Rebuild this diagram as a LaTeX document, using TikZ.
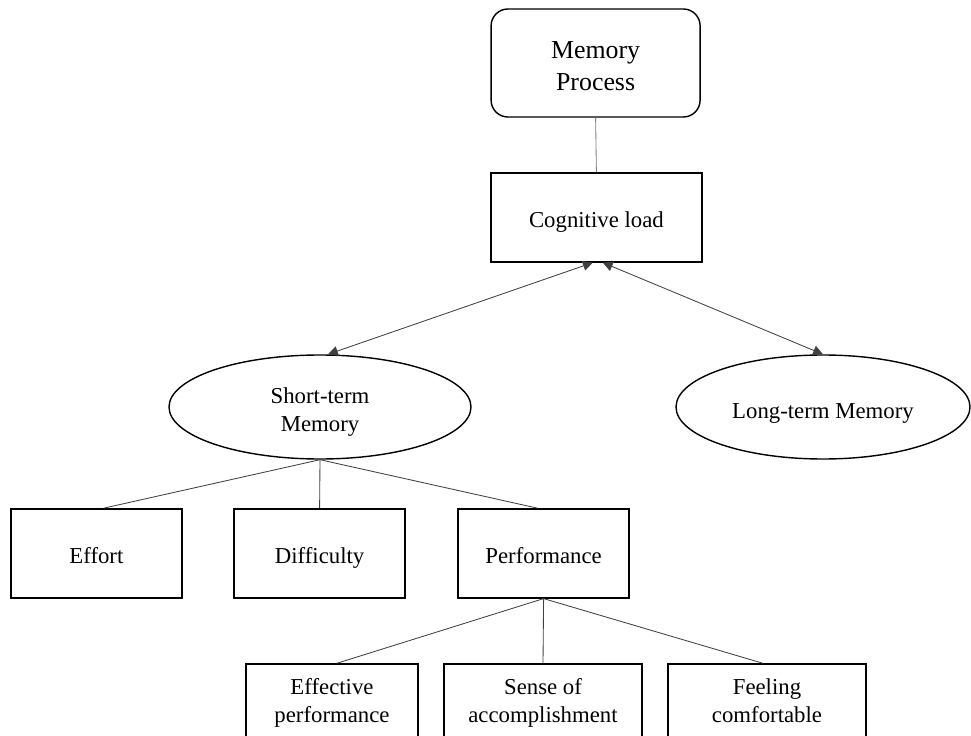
\documentclass[tikz,border=0pt]{standalone}
\usepackage{fontspec}
\setmainfont{Liberation Serif}
\usetikzlibrary{shapes.geometric, arrows.meta}

\begin{document}
\begin{tikzpicture}[
    lift/.style={execute at begin node={\rule{0pt}{#1}}},
    box/.style={draw, line width=1pt, rectangle, inner sep=0pt, align=center,
        minimum width=4.275cm, minimum height=2.225cm,
        lift=20pt, execute at end node=\strut,
        font=\fontsize{16.2}{19.5}\selectfont},
    lowbox/.style={box, minimum width=4.95cm, minimum height=1.85cm, lift=36.3pt},
    topbox/.style={box, rounded corners=0.42cm, minimum width=5.225cm, minimum height=2.7cm,
        lift=46.2pt, font=\fontsize{18.4}{22.7}\selectfont},
    oval/.style={draw, line width=1pt, ellipse, inner sep=0pt, align=center,
        minimum height=2.6cm, lift=22.4pt,
        execute at end node=\strut, font=\fontsize{16.2}{19.9}\selectfont},
    link/.style={draw=black!75, line width=0.6pt},
    twoway/.style={link, {Triangle[length=7pt,width=7pt]}-{Triangle[length=7pt,width=7pt]}}
]
    \useasboundingbox (0,0) rectangle (24.275,18.375);
    \clip (0,0) rectangle (24.275,18.375);

    % Top of the tree
    \node[topbox] (mem) at (14.89,16.80) {Memory\\Process};
    \node[box, minimum width=5.275cm] (cog) at (14.91,12.94) {Cognitive load};

    % The two kinds of memory
    \node[oval, minimum width=7.55cm, lift=41pt] (stm) at (8.0,8.2) {Short-term\\Memory};
    \node[oval, minimum width=7.35cm] (ltm) at (20.575,8.2) {Long-term Memory};

    % Factors of short-term memory
    \node[box] (effort) at (2.41,4.54) {Effort};
    \node[box] (diff) at (7.99,4.54) {Difficulty};
    \node[box] (perf) at (13.59,4.54) {Performance};

    % Outcomes of performance
    \node[lowbox, minimum width=4.3cm] (effect) at (8.3,0.85) {Effective\\performance};
    \node[lowbox] (sense) at (13.575,0.85) {Sense of\\accomplishment};
    \node[lowbox] (comfort) at (19.175,0.85) {Feeling\\comfortable};

    % Connectors
    \draw[link, draw=black!50] (mem.south) -- (cog.north);
    \draw[twoway] ([xshift=-0.09cm]cog.south) -- ([xshift=0.2cm]stm.north);
    \draw[twoway] ([xshift=0.16cm]cog.south) -- (ltm.north);

    \draw[link] (stm.south) -- ([xshift=0.18cm]effort.north);
    \draw[link] (stm.south) -- (diff.north);
    \draw[link] (stm.south) -- ([xshift=-0.15cm]perf.north);

    \draw[link] (perf.south) -- ([xshift=0.12cm]effect.north);
    \draw[link] (perf.south) -- (sense.north);
    \draw[link] (perf.south) -- ([xshift=-0.1cm]comfort.north);
\end{tikzpicture}
\end{document}
